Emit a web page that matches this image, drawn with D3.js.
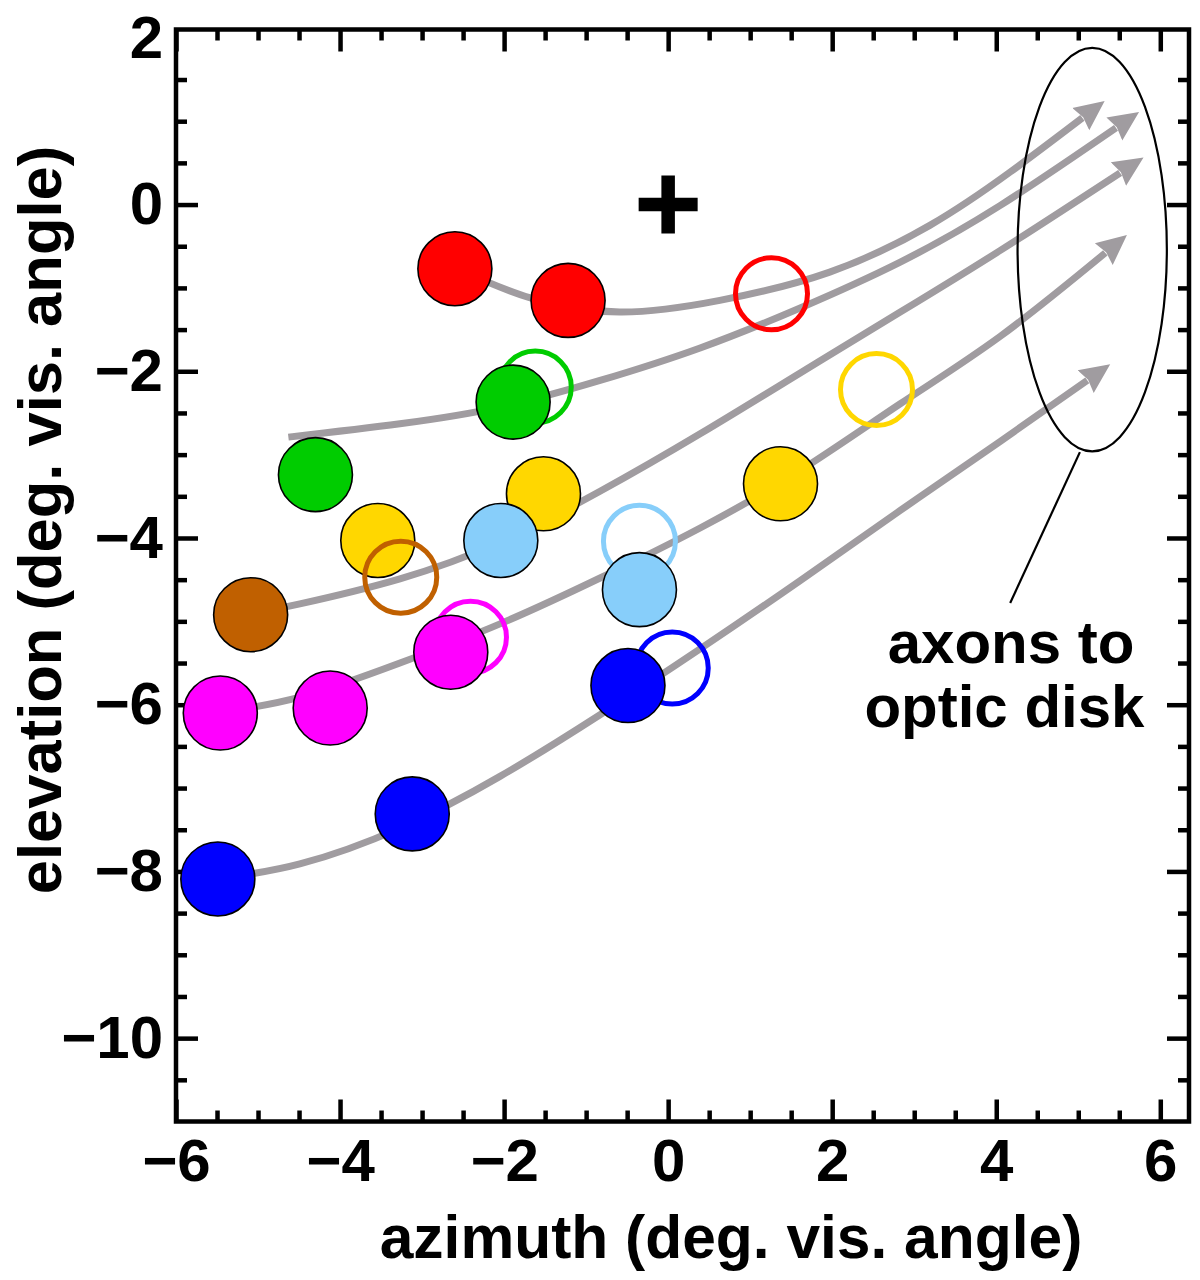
<!DOCTYPE html>
<html><head><meta charset="utf-8">
<script src="https://cdn.jsdelivr.net/npm/d3@7"></script>
<style>
body{margin:0;background:#fff}
text{font-family:"Liberation Sans",Arial,Helvetica,sans-serif;font-weight:bold;fill:#000}
</style>
</head><body>
<svg id="c" width="1200" height="1280"></svg>
<script>
// ---------- data ----------
const groups  = ["red","green","gold","brown","lightblue","magenta","blue"];
const palette = ["#ff0000","#00cc00","#ffd700","#c06000","#87cefa","#ff00ff","#0000ff"];

const filledGroup = ["red","red","green","green","gold","gold","gold","brown","lightblue","lightblue","magenta","magenta","magenta","blue","blue","blue"];
const filledX = [-2.60,-1.22,-1.89,-4.30,-1.52,-3.54, 1.37,-5.09,-2.04,-0.35,-5.46,-4.12,-2.65,-5.49,-3.12,-0.49];
const filledY = [-0.77,-1.15,-2.37,-3.24,-3.47,-4.03,-3.35,-4.92,-4.03,-4.62,-6.10,-6.04,-5.37,-8.09,-7.31,-5.77];

const openGroup = ["red","green","gold","brown","lightblue","magenta","blue"];
const openX = [ 1.26,-1.62, 2.54,-3.26,-0.35,-2.41, 0.05];
const openY = [-1.07,-2.19,-2.22,-4.47,-4.04,-5.19,-5.56];

const axonRed     = [[-2.60,-0.76],[-1.68,-1.12],[-0.59,-1.29],[0.63,-1.15],[1.97,-0.81],[3.19,-0.25],[4.17,0.39],[5.05,1.04]];
const axonGreen   = [[-4.63,-2.79],[-3.27,-2.63],[-2.05,-2.43],[-0.83,-2.11],[0.39,-1.72],[1.61,-1.24],[2.83,-0.69],[4.05,-0.01],[5.46,0.92]];
const axonBrown   = [[-5.09,-4.91],[-4.49,-4.79],[-3.27,-4.49],[-2.05,-4.05],[-0.83,-3.44],[0.39,-2.75],[1.61,-2.02],[2.83,-1.29],[4.05,-0.55],[5.51,0.38]];
const axonMagenta = [[-5.46,-6.09],[-4.49,-5.91],[-3.27,-5.50],[-2.05,-5.03],[-0.83,-4.48],[0.39,-3.88],[1.61,-3.19],[2.83,-2.39],[4.05,-1.58],[5.33,-0.58]];
const axonBlue    = [[-5.50,-8.09],[-4.49,-7.91],[-3.27,-7.48],[-2.05,-6.86],[-0.83,-6.12],[0.39,-5.33],[1.61,-4.51],[2.83,-3.67],[4.05,-2.84],[5.11,-2.11]];

const xMajor = [-6,-4,-2,0,2,4,6];
const yMajor = [2,0,-2,-4,-6,-8,-10];
const xMinor = [-5.5,-5,-4.5,-3.5,-3,-2.5,-1.5,-1,-0.5,0.5,1,1.5,2.5,3,3.5,4.5,5,5.5];
const yMinor = [1.5,1,0.5,-0.5,-1,-1.5,-2.5,-3,-3.5,-4.5,-5,-5.5,-6.5,-7,-7.5,-8.5,-9,-9.5,-10.5];

const fixation = [0, 0];
const diskCenter = [5.17, -0.54];
const diskRadii = [0.91, 2.42];
const pointer = [[5.02,-2.97],[4.17,-4.78]];
const noteLines = ["axons to","optic disk"];
const noteX = [4.18, 4.10];
const noteY = [-5.50, -6.27];

const xTitle = "azimuth (deg. vis. angle)";
const yTitle = "elevation (deg. vis. angle)";

// ---------- chart ----------
const svg = d3.select("#c");
const x = d3.scaleLinear().domain([-6, 6.35]).range([176, 1189]);
const y = d3.scaleLinear().domain([-11, 2.1]).range([1121.5, 29.5]);
const color = d3.scaleOrdinal(groups, palette);
const fmt = d => (d < 0 ? "\u2212" + Math.abs(d) : String(d));

const axW = 4.5;
function styleAxis(g){
  g.select(".domain").remove();
  g.selectAll(".tick line").attr("stroke","#000").attr("stroke-width",axW);
  g.selectAll(".tick text").attr("font-size",60).style("font-family","'Liberation Sans',Arial,sans-serif").style("font-weight","bold").attr("fill","#000");
}
const B = y.range()[0], T = y.range()[1], L = x.range()[0], R = x.range()[1];

// bottom
svg.append("g").attr("transform",`translate(0,${B})`)
  .call(d3.axisBottom(x).tickValues(xMajor).tickSize(-22).tickPadding(17).tickFormat(fmt)).call(styleAxis);
svg.append("g").attr("transform",`translate(0,${B})`)
  .call(d3.axisBottom(x).tickValues(xMinor).tickSize(-11).tickFormat("")).call(styleAxis);
// top
svg.append("g").attr("transform",`translate(0,${T})`)
  .call(d3.axisTop(x).tickValues(xMajor).tickSize(-22).tickFormat("")).call(styleAxis);
svg.append("g").attr("transform",`translate(0,${T})`)
  .call(d3.axisTop(x).tickValues(xMinor).tickSize(-11).tickFormat("")).call(styleAxis);
// left
const gl = svg.append("g").attr("transform",`translate(${L},0)`)
  .call(d3.axisLeft(y).tickValues(yMajor).tickSize(-22).tickPadding(13).tickFormat(fmt)).call(styleAxis);
gl.selectAll(".tick").filter(d => d === 2).select("line").remove();
svg.append("g").attr("transform",`translate(${L},0)`)
  .call(d3.axisLeft(y).tickValues(yMinor).tickSize(-11).tickFormat("")).call(styleAxis);
// right
const gr = svg.append("g").attr("transform",`translate(${R},0)`)
  .call(d3.axisRight(y).tickValues(yMajor).tickSize(-22).tickFormat("")).call(styleAxis);
gr.selectAll(".tick").filter(d => d === 2).select("line").remove();
svg.append("g").attr("transform",`translate(${R},0)`)
  .call(d3.axisRight(y).tickValues(yMinor).tickSize(-11).tickFormat("")).call(styleAxis);

// frame
svg.append("rect").attr("x",L).attr("y",T).attr("width",R-L).attr("height",B-T)
  .attr("fill","none").attr("stroke","#000").attr("stroke-width",axW);

// arrow marker
const gray = "#a09ca0";
svg.append("defs").append("marker")
  .attr("id","arr").attr("markerUnits","userSpaceOnUse")
  .attr("viewBox","0 -15 32 30").attr("markerWidth",32).attr("markerHeight",30)
  .attr("refX",2).attr("refY",0).attr("orient","auto")
  .append("path").attr("d","M0,-14 L30,0 L0,14 L3,0 Z").attr("fill",gray);

const line = d3.line().x(d => x(d[0])).y(d => y(d[1])).curve(d3.curveNatural);
svg.append("g").selectAll("path").data([axonRed, axonGreen, axonBrown, axonMagenta, axonBlue])
  .join("path").attr("d", line).attr("fill","none").attr("stroke",gray)
  .attr("stroke-width",7).attr("marker-end","url(#arr)");

// circles: per group, open first then filled
const rPx = 37;
const gc = svg.append("g");
groups.forEach(gname => {
  openGroup.forEach((g,i) => {
    if (g !== gname) return;
    gc.append("circle").attr("cx",x(openX[i])).attr("cy",y(openY[i])).attr("r",rPx-1)
      .attr("fill","none").attr("stroke",color(g)).attr("stroke-width",5);
  });
  filledGroup.forEach((g,i) => {
    if (g !== gname) return;
    gc.append("circle").attr("cx",x(filledX[i])).attr("cy",y(filledY[i])).attr("r",rPx)
      .attr("fill",color(g)).attr("stroke","#000").attr("stroke-width",1.6);
  });
});

// fixation cross
const fx = x(fixation[0]), fy = y(fixation[1]);
svg.append("path").attr("d",`M${fx-29.5},${fy}H${fx+29.5}M${fx},${fy-29}V${fy+29}`)
  .attr("stroke","#000").attr("stroke-width",13.5).attr("fill","none");

// optic disk ellipse & pointer
svg.append("ellipse").attr("cx",x(diskCenter[0])).attr("cy",y(diskCenter[1]))
  .attr("rx",x(diskRadii[0]) - x(0)).attr("ry",y(0) - y(diskRadii[1]))
  .attr("fill","none").attr("stroke","#000").attr("stroke-width",2.2);
svg.append("line").attr("x1",x(pointer[0][0])).attr("y1",y(pointer[0][1]))
  .attr("x2",x(pointer[1][0])).attr("y2",y(pointer[1][1]))
  .attr("stroke","#000").attr("stroke-width",2.2);
noteLines.forEach((t,i) => {
  svg.append("text").attr("x",x(noteX[i])).attr("y",y(noteY[i]))
    .attr("text-anchor","middle").attr("font-size",60).text(t);
});

// axis titles
svg.append("text").attr("x",731).attr("y",1258).attr("text-anchor","middle").attr("font-size",60.5).text(xTitle);
svg.append("text").attr("transform","translate(61,520) rotate(-90)").attr("text-anchor","middle").attr("font-size",61.5).text(yTitle);
</script>
</body></html>
